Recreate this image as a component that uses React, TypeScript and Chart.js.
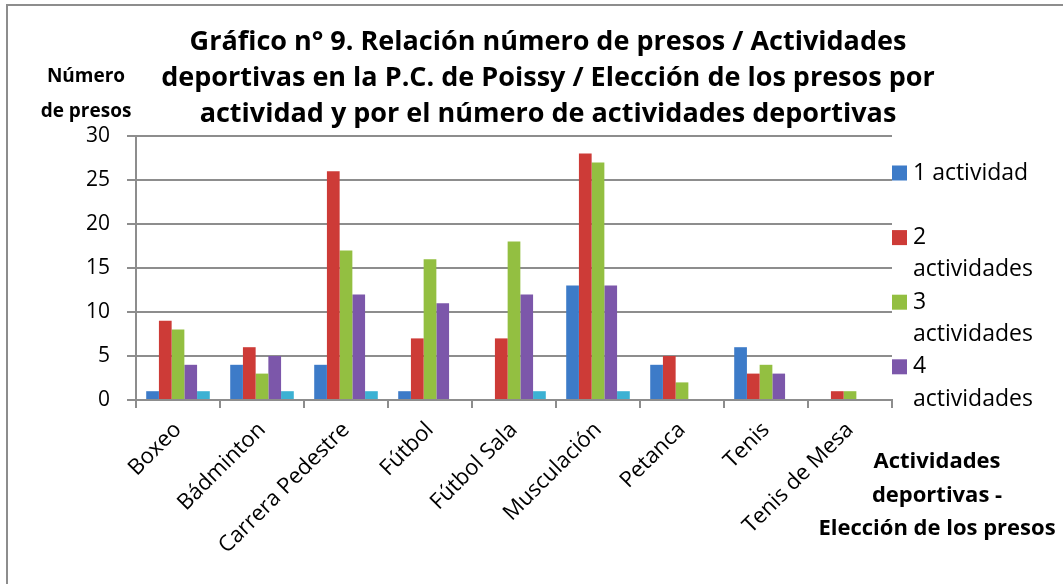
import React, { useEffect, useRef } from "react";
import { Chart, registerables } from "chart.js";

Chart.register(...registerables);

// ---- Data ----
const categories = [
  "Boxeo",
  "Bádminton",
  "Carrera Pedestre",
  "Fútbol",
  "Fútbol Sala",
  "Musculación",
  "Petanca",
  "Tenis",
  "Tenis de Mesa",
];
const seriesLabels = ["1 actividad", "2 actividades", "3 actividades", "4 actividades", ""];
const unaActividad = [1, 4, 4, 1, 0, 13, 4, 6, 0];
const dosActividades = [9, 6, 26, 7, 7, 28, 5, 3, 1];
const tresActividades = [8, 3, 17, 16, 18, 27, 2, 4, 1];
const cuatroActividades = [4, 5, 12, 11, 12, 13, 0, 3, 0];
const serieSinNombre = [1, 1, 1, 0, 1, 1, 0, 0, 0];
const seriesColors = ["#3d7bc8", "#cd3b37", "#93bf41", "#7c57aa", "#3cb1d3"];
const yMin = 0;
const yMax = 30;
const yStep = 5;
const titleLines = [
  "Gráfico n° 9. Relación número de presos / Actividades",
  "deportivas en la P.C. de Poissy / Elección de los presos por",
  "actividad y por el número de actividades deportivas",
];
const yTitleLines = ["Número", "de presos"];
const xTitleLines = ["Actividades", "deportivas -", "Elección de los presos"];

const FONT = '"Open Sans", "DejaVu Sans", sans-serif';
const GRID = "#8d8d8d";

function wrapText(ctx: CanvasRenderingContext2D, text: string, maxWidth: number): string[] {
  const words = text.split(" ");
  const lines: string[] = [];
  let cur = "";
  for (const w of words) {
    const test = cur ? cur + " " + w : w;
    if (cur && ctx.measureText(test).width > maxWidth) {
      lines.push(cur);
      cur = w;
    } else {
      cur = test;
    }
  }
  if (cur) lines.push(cur);
  return lines;
}

const textPlugin = {
  id: "customTexts",
  afterDraw(chart: any) {
    const ctx: CanvasRenderingContext2D = chart.ctx;
    const area = chart.chartArea;
    ctx.save();
    ctx.fillStyle = "#000";
    ctx.textBaseline = "middle";

    // Title
    ctx.textAlign = "center";
    ctx.font = `bold 27px ${FONT}`;
    titleLines.forEach((t, i) => ctx.fillText(t, 548, 42 + i * 36));

    // Y axis title
    ctx.font = `bold 19px ${FONT}`;
    yTitleLines.forEach((t, i) => ctx.fillText(t, 86, 77 + i * 35));

    // X axis title
    ctx.font = `bold 22px ${FONT}`;
    xTitleLines.forEach((t, i) => ctx.fillText(t, 937, 462 + i * 33.5));

    // Legend
    ctx.textAlign = "left";
    ctx.font = `23px ${FONT}`;
    const lx = area.right;
    let ly = 173;
    const lh = 32.3;
    chart.data.datasets.forEach((ds: any) => {
      if (!ds.label) return;
      ctx.fillStyle = ds.backgroundColor;
      ctx.fillRect(lx, ly - 7.5, 15, 15);
      ctx.fillStyle = "#000";
      const lines = wrapText(ctx, ds.label, 128);
      lines.forEach((l, i) => ctx.fillText(l, lx + 21, ly + i * lh));
      ly += 2 * lh;
    });
    ctx.restore();
  },
};

export default function App() {
  const canvasRef = useRef<HTMLCanvasElement | null>(null);

  useEffect(() => {
    const canvas = canvasRef.current;
    if (!canvas) return;
    const seriesData = [unaActividad, dosActividades, tresActividades, cuatroActividades, serieSinNombre];
    const chart = new Chart(canvas, {
      type: "bar",
      data: {
        labels: categories,
        datasets: seriesData.map((d, i) => ({
          label: seriesLabels[i],
          data: d,
          backgroundColor: seriesColors[i],
          borderWidth: 0,
          categoryPercentage: 0.757,
          barPercentage: 1,
        })),
      },
      options: {
        responsive: false,
        animation: false,
        devicePixelRatio: 1,
        layout: { padding: { left: 0, right: 171, top: 136, bottom: 0 } },
        plugins: {
          legend: { display: false },
          title: { display: false },
          tooltip: { enabled: false },
        },
        scales: {
          x: {
            grid: {
              display: true,
              drawOnChartArea: false,
              drawTicks: true,
              tickLength: 8,
              color: GRID,
              lineWidth: 2,
              offset: true,
            },
            border: { display: true, color: GRID, width: 2 },
            ticks: {
              autoSkip: false,
              minRotation: 45,
              maxRotation: 45,
              padding: 9,
              color: "#000",
              font: { family: FONT, size: 22 },
            },
            afterFit: (scale: any) => {
              scale.height = 184;
            },
          },
          y: {
            min: yMin,
            max: yMax,
            ticks: {
              stepSize: yStep,
              padding: 17,
              color: "#000",
              font: { family: FONT, size: 21 },
            },
            grid: { color: GRID, lineWidth: 2, tickLength: 9 },
            border: { display: true, color: GRID, width: 2 },
            afterFit: (scale: any) => {
              scale.width = 136;
            },
          },
        },
      },
      plugins: [textPlugin],
    });
    return () => chart.destroy();
  }, []);

  return (
    <div
      style={{
        position: "fixed",
        left: 0,
        top: 0,
        width: 1063,
        height: 584,
        background: "#fff",
        overflow: "hidden",
      }}
    >
      <div
        style={{
          position: "absolute",
          left: 6,
          top: 4,
          width: 1100,
          height: 700,
          border: "2px solid #8d8d8d",
        }}
      />
      <canvas
        ref={canvasRef}
        width={1063}
        height={584}
        style={{ position: "absolute", left: 0, top: 0, width: 1063, height: 584 }}
      />
    </div>
  );
}
